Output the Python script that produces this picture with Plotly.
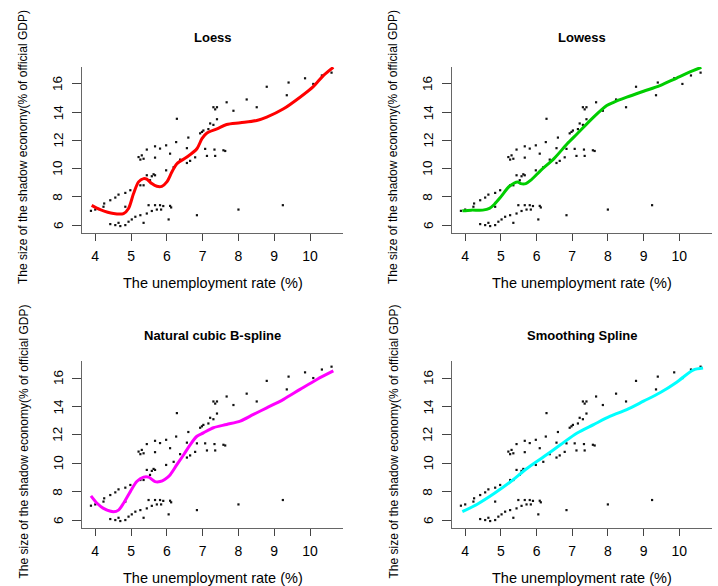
import plotly.graph_objects as go

# ---- data ----
unemp = [3.88, 4.00, 4.23, 4.25, 4.42, 4.56, 4.65, 4.84, 4.98, 4.84,
         4.42, 4.56, 4.65, 4.70, 4.84, 4.93, 5.02, 5.12, 5.26, 5.35,
         5.44, 5.49, 5.58, 5.67, 5.72, 5.81, 5.84, 5.90, 6.09, 6.12,
         6.05, 6.84, 8.00, 9.24,
         5.21, 5.26, 5.30, 5.35, 5.44, 5.67, 5.67, 5.81, 5.98, 6.09,
         6.26, 6.28, 5.44, 5.53, 5.58, 5.63, 5.67, 5.35, 5.26, 5.98,
         6.19, 6.37, 6.56, 6.65, 6.56, 6.60, 6.79, 6.84, 6.93, 6.98,
         7.02, 7.07, 7.12, 7.16, 7.21, 7.30, 7.30, 7.35, 7.40, 7.40,
         7.33, 7.35, 7.58, 7.63, 7.67, 7.86, 8.23, 8.51, 8.79, 9.35,
         9.40, 9.86, 10.09, 10.33, 10.60]
shadow = [7.01, 7.10, 7.30, 7.53, 7.76, 7.95, 8.16, 8.28, 8.47, 7.30,
          6.07, 6.00, 6.16, 5.93, 6.00, 6.24, 6.40, 6.59, 6.70, 6.16,
          6.82, 7.41, 7.00, 7.41, 7.10, 7.41, 7.10, 7.35, 7.36, 7.25,
          6.40, 6.70, 7.10, 7.41,
          10.82, 10.64, 10.94, 10.70, 11.35, 11.58, 10.78, 11.42, 11.65, 11.06,
          11.88, 13.53, 9.53, 9.18, 9.46, 9.60, 9.53, 8.82, 8.82, 9.88,
          10.10, 10.64, 10.40, 10.55, 11.45, 12.20, 10.80, 11.40, 12.50, 12.60,
          12.70, 11.40, 10.90, 12.80, 13.20, 13.10, 14.35, 14.20, 14.35, 13.50,
          11.35, 10.90, 11.30, 11.25, 14.70, 14.10, 14.90, 14.35, 15.80, 15.20,
          16.10, 16.40, 16.00, 16.60, 16.80]

loess_x = [3.90, 4.14, 4.51, 4.79, 4.93, 5.07, 5.21, 5.35, 5.44, 5.58,
           5.72, 5.86, 6.00, 6.14, 6.28, 6.56, 6.84, 6.98, 7.12, 7.40,
           7.67, 8.05, 8.51, 8.79, 9.26, 9.72, 10.09, 10.37, 10.65]
loess_y = [7.40, 7.10, 6.82, 6.82, 7.18, 8.24, 9.06, 9.29, 9.25, 8.94,
           8.75, 8.75, 9.06, 9.76, 10.35, 10.82, 11.41, 12.12, 12.52, 12.82,
           13.13, 13.25, 13.41, 13.65, 14.24, 15.06, 15.81, 16.59, 17.18]

lowess_x = [3.92, 4.17, 4.49, 4.68, 4.82, 5.00, 5.24, 5.47, 5.56, 5.70,
            5.84, 6.12, 6.49, 6.86, 7.14, 7.60, 7.97, 8.16, 8.53, 9.00,
            9.46, 9.93, 10.39, 10.62]
lowess_y = [7.01, 7.06, 7.06, 7.18, 7.48, 8.00, 8.75, 9.06, 8.94, 8.94,
            9.18, 9.88, 10.71, 11.76, 12.47, 13.65, 14.47, 14.70, 15.06, 15.48,
            15.88, 16.42, 16.94, 17.18]

ns_x = [3.88, 4.05, 4.23, 4.51, 4.65, 4.79, 4.98, 5.16, 5.35, 5.49,
        5.67, 5.81, 5.95, 6.09, 6.28, 6.47, 6.65, 6.84, 7.02, 7.30,
        7.67, 8.05, 8.42, 8.79, 9.26, 9.72, 10.19, 10.65]
ns_y = [7.70, 7.18, 6.82, 6.59, 6.70, 7.18, 8.00, 8.71, 9.02, 9.02,
        8.71, 8.71, 8.88, 9.18, 9.90, 10.60, 11.30, 11.90, 12.14, 12.50,
        12.73, 12.97, 13.44, 13.90, 14.50, 15.20, 15.90, 16.50]

ss_x = [3.92, 4.35, 4.82, 5.28, 5.74, 6.21, 6.67, 7.14, 7.60, 8.07,
        8.53, 9.00, 9.46, 9.93, 10.39, 10.67]
ss_y = [6.59, 7.13, 7.88, 8.71, 9.65, 10.47, 11.30, 12.13, 12.72, 13.31,
        13.78, 14.37, 14.96, 15.71, 16.56, 16.70]

titles = ["Loess", "Lowess", "Natural cubic B-spline", "Smoothing Spline"]
curves = [(loess_x, loess_y), (lowess_x, lowess_y), (ns_x, ns_y), (ss_x, ss_y)]
colors = ["#FF0000", "#00CD00", "#FF00FF", "#00FFFF"]
x_ticks = [4, 5, 6, 7, 8, 9, 10]
y_ticks = [6, 8, 10, 12, 14, 16]
x_label = "The unemployment rate (%)"
y_label = "The size of the shadow economy(% of official GDP)"

W, H = 718, 586
# pixel boxes of each plotting region (left, right, top, bottom)
boxes = [(82, 343, 67, 233), (452, 712, 67, 233),
         (82, 343, 361, 528), (452, 712, 361, 528)]
title_gap = [29, 29, 26, 26]

FONT = "Liberation Sans, Arial, sans-serif"
fig = go.Figure()
layout = dict(width=W, height=H, margin=dict(l=0, r=0, t=0, b=0),
              paper_bgcolor="white", plot_bgcolor="white", showlegend=False,
              font=dict(family=FONT, color="black"))
annotations = []

for i in range(4):
    n = "" if i == 0 else str(i + 1)
    xa, ya = "x" + n, "y" + n
    l, r, t, b = boxes[i]
    fig.add_trace(go.Scatter(x=unemp, y=shadow, mode="markers", xaxis=xa, yaxis=ya,
                             marker=dict(size=2.2, color="#111", symbol="square",
                                         line=dict(width=0)),
                             hoverinfo="skip"))
    cx, cy = curves[i]
    fig.add_trace(go.Scatter(x=cx, y=cy, mode="lines", xaxis=xa, yaxis=ya,
                             line=dict(color=colors[i], width=3, shape="spline",
                                       smoothing=0.8),
                             hoverinfo="skip"))
    layout["xaxis" + n] = dict(domain=[l / W, r / W], anchor=ya, range=[3.63, 10.92],
                               tickvals=x_ticks, ticks="outside", ticklen=7,
                               tickcolor="#444", showline=True, linecolor="#666",
                               linewidth=1, showgrid=False, zeroline=False,
                               tickfont=dict(size=14, family=FONT), ticklabelstandoff=3)
    layout["yaxis" + n] = dict(domain=[1 - b / H, 1 - t / H], anchor=xa, range=[5.44, 17.2],
                               tickvals=y_ticks, ticks="outside", ticklen=9,
                               tickcolor="#444", showline=True, linecolor="#666",
                               linewidth=1, showgrid=False, zeroline=False,
                               showticklabels=False)
    # rotated y tick labels (as in base R graphics)
    for v in y_ticks:
        annotations.append(dict(text=str(v), xref="paper", yref=ya, x=(l - 24) / W, y=v,
                                textangle=-90, showarrow=False,
                                font=dict(size=13.5, family=FONT),
                                xanchor="center", yanchor="middle"))
    cxp = (l + r) / 2
    annotations.append(dict(text="<b>" + titles[i] + "</b>", xref="paper", yref="paper",
                            x=cxp / W, y=1 - (t - title_gap[i]) / H, showarrow=False,
                            font=dict(size=13, family=FONT), xanchor="center", yanchor="middle"))
    annotations.append(dict(text=x_label, xref="paper", yref="paper",
                            x=cxp / W, y=1 - (b + 50) / H, showarrow=False,
                            font=dict(size=14.5, family=FONT), xanchor="center", yanchor="middle"))
    annotations.append(dict(text=y_label, xref="paper", yref="paper", textangle=-90,
                            x=(l - 59) / W, y=1 - ((t + b) / 2 - 3) / H, showarrow=False,
                            font=dict(size=12, family=FONT), xanchor="center", yanchor="middle"))

layout["annotations"] = annotations
fig.update_layout(**layout)
fig.write_html("out.html", config={"displayModeBar": False},
               post_script="document.body.style.margin='0px';")
